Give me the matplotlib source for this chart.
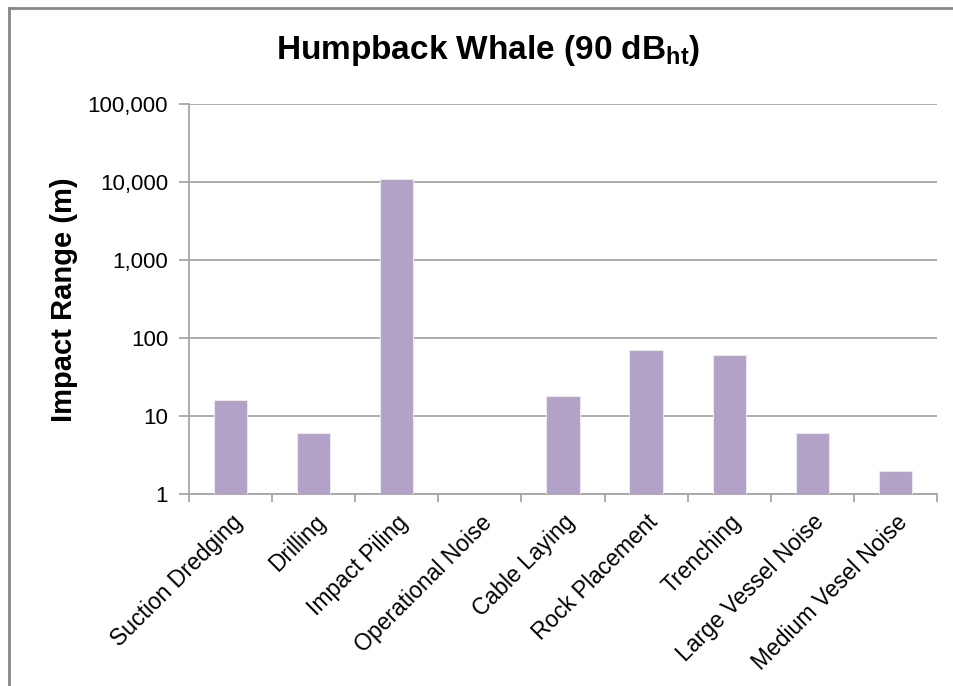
import numpy as np
import matplotlib
matplotlib.use("Agg")
import matplotlib.pyplot as plt
from matplotlib.lines import Line2D
from matplotlib.ticker import FixedLocator, NullLocator

plt.rcParams['font.family'] = ['Liberation Sans', 'DejaVu Sans']
plt.rcParams['mathtext.fontset'] = 'custom'
plt.rcParams['mathtext.rm'] = 'Liberation Sans:bold'

# impact ranges per activity (m); operational noise has no range
activities = ["Suction Dredging", "Drilling", "Impact Piling", "Operational Noise",
              "Cable Laying", "Rock Placement", "Trenching", "Large Vessel Noise",
              "Medium Vesel Noise"]
impact_range = [16, 6, 11000, 0, 18, 70, 60, 6, 2]
y_ticks = [1, 10, 100, 1000, 10000, 100000]
y_tick_labels = ["1", "10", "100", "1,000", "10,000", "100,000"]

grey = "#a6a6a6"
fig = plt.figure(figsize=(9.54, 6.86), dpi=100)
ax = fig.add_axes([189 / 954, 1 - 494 / 686, (937 - 189) / 954, (494 - 104) / 686])

x = np.arange(len(activities))
ax.bar(x, impact_range, width=0.4, color="#b3a2c7", edgecolor="#ece6f2",
       linewidth=0.8, zorder=3)

ax.set_yscale("log")
ax.set_ylim(1, 100000)
ax.set_xlim(-0.5, len(activities) - 0.5)
ax.yaxis.set_major_locator(FixedLocator(y_ticks))
ax.yaxis.set_minor_locator(NullLocator())
ax.set_yticklabels(y_tick_labels)
ax.yaxis.grid(True, color=grey, linewidth=1.3, zorder=0)

ax.set_xticks(x)
ax.set_xticklabels(activities, rotation=45, ha="right", rotation_mode="anchor")
ax.set_xticks(np.arange(len(activities) + 1) - 0.5, minor=True)
ax.tick_params(axis="x", which="major", length=0, pad=12, labelsize=16.5, colors="black")
ax.tick_params(axis="x", which="minor", length=6, width=1.3, color=grey)
ax.tick_params(axis="y", length=7, width=1.3, color=grey, labelsize=16, pad=8)

for side in ("top", "right"):
    ax.spines[side].set_visible(False)
for side in ("left", "bottom"):
    ax.spines[side].set_color(grey)
    ax.spines[side].set_linewidth(1.3)

fig.text(64 / 954, 1 - 300 / 686, "Impact Range (m)", rotation=90,
         ha="center", va="center", fontsize=21, fontweight="bold")
fig.text(488 / 954, 1 - 50 / 686, r"Humpback Whale (90 dB$_{\mathrm{ht}}$)",
         ha="center", va="center", fontsize=24, fontweight="bold")

# outer chart frame
fig.add_artist(Line2D([9 / 954, 9 / 954], [0, 1 - 8 / 686], color="#888888",
                      linewidth=2, transform=fig.transFigure))
fig.add_artist(Line2D([9 / 954, 1], [1 - 8 / 686, 1 - 8 / 686], color="#888888",
                      linewidth=2, transform=fig.transFigure))

fig.savefig("out.png", dpi=100)
